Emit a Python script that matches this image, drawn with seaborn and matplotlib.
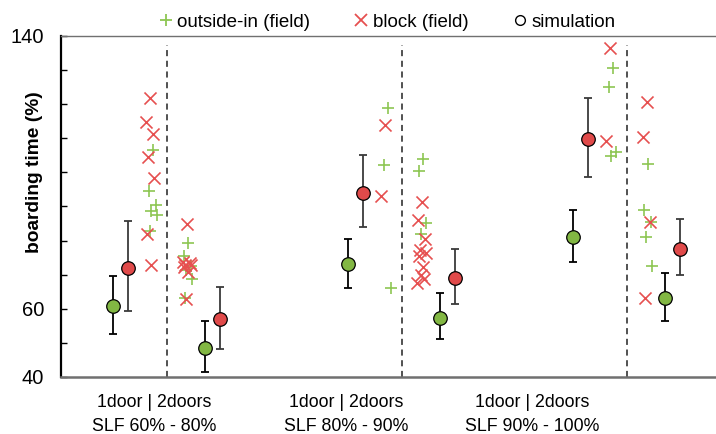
import numpy as np
import pandas as pd
import matplotlib
matplotlib.use("Agg")
import matplotlib.pyplot as plt
from matplotlib.lines import Line2D
import seaborn as sns

# ---------------- data ----------------
groups = ["SLF 60% - 80%", "SLF 80% - 90%", "SLF 90% - 100%"]
door_label = "1door | 2doors"

field_outside_1door = [[106.6, 94.5, 90.4, 88.7, 87.5, 82.9],
                       [118.8, 102.2, 66.0],
                       [130.5, 125.1, 106.0, 104.7]]
field_block_1door = [[121.7, 114.9, 111.3, 104.4, 98.4, 81.9, 72.8],
                     [113.9, 93.1],
                     [136.4, 109.2]]
field_outside_2doors = [[79.4, 75.5, 72.5, 71.5, 68.6, 63.1],
                        [103.9, 100.5, 85.3, 81.9],
                        [102.5, 89.0, 85.5, 81.0, 72.6]]
field_block_2doors = [[84.9, 73.8, 73.3, 72.8, 72.8, 72.3, 70.9, 62.9],
                      [91.2, 86.0, 80.4, 77.2, 76.4, 75.5, 72.3, 69.9, 68.6, 67.6],
                      [120.7, 110.3, 85.4, 63.1]]

sim_outside_1door = [60.9, 73.0, 81.0]
sim_outside_1door_low = [52.6, 66.0, 73.6]
sim_outside_1door_high = [69.6, 80.5, 88.9]
sim_block_1door = [72.0, 94.0, 109.9]
sim_block_1door_low = [59.4, 84.0, 98.7]
sim_block_1door_high = [85.8, 105.1, 121.9]
sim_outside_2doors = [48.6, 57.4, 63.1]
sim_outside_2doors_low = [41.6, 51.1, 56.5]
sim_outside_2doors_high = [56.5, 64.5, 70.6]
sim_block_2doors = [56.9, 68.9, 77.5]
sim_block_2doors_low = [48.2, 61.4, 69.9]
sim_block_2doors_high = [66.3, 77.4, 86.3]

y_ticks = [40, 50, 60, 70, 80, 90, 100, 110, 120, 130, 140]
y_tick_labels = {40: "40", 60: "60", 140: "140"}

# ---------------- layout (pixel-like x scale) ----------------
group_center = [106, 341, 566]       # dashed separators
label_pos = [93, 285, 471]           # category label centres
off = {"sim_o1": -54, "sim_b1": -39, "fo1": -14, "fb1": -17,
       "fo2": 21, "fb2": 20, "sim_o2": 38, "sim_b2": 53}

GREEN_F = "#8DC653"
RED_F = "#E65050"
GREEN_S = "#82B743"
RED_S = "#E04A4A"

sns.set_theme(style="white")
plt.rcParams["font.family"] = ["Liberation Sans", "DejaVu Sans"]
for k in ["text.color", "axes.labelcolor", "xtick.color", "ytick.color"]:
    plt.rcParams[k] = "black"

fig = plt.figure(figsize=(7.16, 4.34), dpi=100)
ax = fig.add_axes([61 / 716, 1 - 377 / 434, 655 / 716, 341 / 434])


def jitter(n):
    pattern = [0, -4, 3, -2, 4, -3, 1, -1, 2, -5]
    return np.array([pattern[i % len(pattern)] for i in range(n)], dtype=float)


rows = []
for g in range(3):
    for key, vals, kind in [("fo1", field_outside_1door[g], "outside"),
                            ("fb1", field_block_1door[g], "block"),
                            ("fo2", field_outside_2doors[g], "outside"),
                            ("fb2", field_block_2doors[g], "block")]:
        xs = group_center[g] + off[key] + jitter(len(vals))
        for x, v in zip(xs, vals):
            rows.append({"x": x, "value": v, "kind": kind})
field = pd.DataFrame(rows)

sns.scatterplot(data=field[field.kind == "outside"], x="x", y="value", marker="+",
                color=GREEN_F, s=70, linewidth=1.2, ax=ax, zorder=3, legend=False)
sns.scatterplot(data=field[field.kind == "block"], x="x", y="value", marker="x",
                color=RED_F, s=75, linewidth=1.2, ax=ax, zorder=3, legend=False)

sims = [
    ("sim_o1", sim_outside_1door, sim_outside_1door_low, sim_outside_1door_high, GREEN_S, "black"),
    ("sim_b1", sim_block_1door, sim_block_1door_low, sim_block_1door_high, RED_S, "#3a3a3a"),
    ("sim_o2", sim_outside_2doors, sim_outside_2doors_low, sim_outside_2doors_high, GREEN_S, "black"),
    ("sim_b2", sim_block_2doors, sim_block_2doors_low, sim_block_2doors_high, RED_S, "#3a3a3a"),
]
for key, vals, lo, hi, col, ecol in sims:
    xs = np.array(group_center) + off[key]
    vals = np.array(vals)
    yerr = np.vstack([vals - np.array(lo), np.array(hi) - vals])
    ax.errorbar(xs, vals, yerr=yerr, fmt="none", ecolor=ecol, elinewidth=1.3,
                capsize=3, capthick=1.3, zorder=4)
    sdf = pd.DataFrame({"x": xs, "value": vals})
    sns.scatterplot(data=sdf, x="x", y="value", marker="o", color=col, s=95,
                    edgecolor="black", linewidth=0.9, ax=ax, zorder=5, legend=False)

for gc in group_center:
    ax.plot([gc, gc], [40, 137.5], color="#222222", lw=1.1, ls=(0, (4, 3)), zorder=2)

ax.set_xlim(0, 655)
ax.set_ylim(40, 140)
ax.set_yticks(y_ticks)
ax.set_yticklabels([y_tick_labels.get(t, "") for t in y_ticks], fontsize=14.5)
ax.tick_params(axis="y", direction="in", length=4, width=1, color="black", pad=12, left=True)
ax.set_xticks(label_pos)
ax.set_xticklabels([f"{door_label}\n{g}" for g in groups], fontsize=12.8, linespacing=1.55)
ax.tick_params(axis="x", length=0, pad=12)
ax.set_xlabel("")
ax.set_ylabel("boarding time (%)", fontsize=13.8, fontweight="bold")
ax.yaxis.set_label_coords(-0.0275, 0.60)

ax.spines["left"].set_color("black")
ax.spines["left"].set_linewidth(1.6)
ax.spines["bottom"].set_color("#707070")
ax.spines["bottom"].set_linewidth(1.8)
ax.spines["top"].set_color("#707070")
ax.spines["top"].set_linewidth(1.0)
ax.spines["right"].set_visible(False)

handles = [
    Line2D([], [], ls="none", marker="+", color=GREEN_F, markersize=9, markeredgewidth=1.3),
    Line2D([], [], ls="none", marker="x", color=RED_F, markersize=9, markeredgewidth=1.3),
    Line2D([], [], ls="none", marker="o", markerfacecolor="white", markeredgecolor="black",
           markersize=7, markeredgewidth=1.0),
]
fig.legend(handles, ["outside-in (field)", "block (field)", "simulation"],
           loc="center left", bbox_to_anchor=(160 / 716, 1 - 22 / 434), ncol=3,
           frameon=False, fontsize=13.5, handlelength=0.6, handletextpad=0.3,
           columnspacing=2.45, borderpad=0, borderaxespad=0)

fig.savefig("out.png", dpi=100)
